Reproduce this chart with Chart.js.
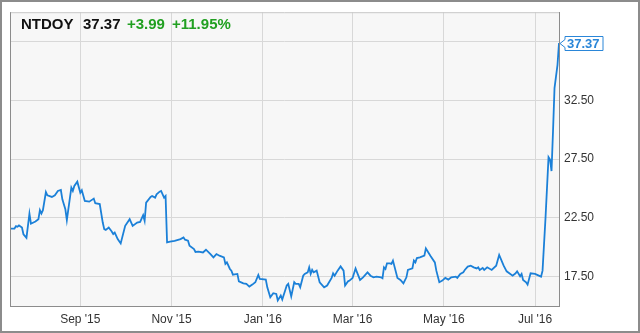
<!DOCTYPE html>
<html lang="en">
<head>
  <meta charset="UTF-8" />
  <title>NTDOY 1 Year</title>
  <script src="https://cdn.jsdelivr.net/npm/chart.js"></script>
  <style>
    html, body {
      margin: 0;
      padding: 0;
      background: #fff;
    }
    #chart-container {
      width: 640px;
      height: 333px;
    }
  </style>
</head>
<body>

  <div id="chart-container">
    <canvas id="stockChart" width="640" height="333"></canvas>
  </div>

  <script>
    // days counted from 16 Jul 2015
    const days = [
      0, 3, 4, 5, 6, 8, 9, 11, 13, 14,
      17, 19, 20, 21, 22, 24, 25, 28, 30, 32,
      34, 35, 37, 38, 41, 42, 43, 45, 47, 48,
      50, 53, 56, 57, 60, 62, 63, 64, 66, 68,
      69, 70, 72, 74, 77, 80, 82, 85, 87, 89,
      90, 91, 94, 95, 97, 98, 100, 101, 103, 104,
      105, 107, 110, 114, 116, 117, 119, 120, 123, 124,
      126, 129, 131, 134, 136, 138, 140, 143, 144, 145,
      147, 148, 149, 152, 153, 156, 158, 160, 162, 164,
      166, 167, 171, 172, 174, 176, 178, 179, 181, 182,
      185, 186, 188, 190, 191, 193, 194, 196, 197, 199,
      200, 201, 202, 203, 205, 207, 210, 212, 215, 216,
      217, 219, 221, 223, 224, 226, 227, 229, 231, 232,
      234, 236, 239, 241, 243, 245, 248, 249, 250, 251,
      252, 254, 255, 256, 259, 261, 263, 265, 266, 269,
      270, 271, 272, 274, 277, 278, 281, 284, 285, 287,
      289, 291, 293, 295, 298, 299, 301, 303, 304, 306,
      308, 310, 312, 313, 314, 316, 317, 319, 322, 325,
      327, 330, 332, 336, 338, 339, 341, 342, 343, 345,
      346, 348, 351, 355, 356, 358, 360, 361, 362, 363,
      364, 366, 367
    ];
    const prices = [
      21.59, 21.59, 21.80, 21.74, 21.85, 21.68, 21.10, 20.80, 22.86, 22.00,
      22.19, 22.39, 23.15, 22.86, 23.15, 24.70, 24.42, 24.28, 24.42, 24.79,
      24.87, 24.08, 23.24, 22.30, 25.07, 24.79, 25.21, 25.58, 24.64, 24.85,
      23.94, 23.88, 24.14, 23.75, 23.68, 22.10, 21.54, 21.48, 21.68, 21.34,
      21.12, 21.25, 20.69, 20.32, 21.82, 22.39, 21.82, 22.10, 22.16, 22.73,
      22.25, 23.80, 24.28, 24.36, 24.22, 24.50, 24.73, 24.79, 24.22, 24.36,
      20.41, 20.47, 20.55, 20.69, 20.83, 20.64, 20.55, 20.13, 19.85, 19.60,
      19.63, 19.56, 19.79, 19.42, 19.14, 19.42, 19.28, 19.14, 18.58, 18.71,
      18.15, 18.01, 17.67, 17.73, 17.10, 16.93, 16.88, 16.65, 16.82, 17.02,
      17.64, 17.30, 17.25, 16.59, 15.75, 16.09, 16.03, 15.47, 15.89, 15.55,
      16.74, 16.88, 15.81, 17.02, 16.88, 16.88, 16.59, 17.58, 17.73, 17.86,
      18.29, 17.73, 18.07, 17.86, 18.01, 17.02, 16.59, 16.74, 17.39, 17.78,
      17.58, 18.01, 18.37, 18.01, 16.74, 17.10, 17.16, 17.39, 18.20, 17.86,
      17.22, 17.44, 17.86, 17.58, 17.44, 17.50, 17.44, 17.36, 18.29, 18.15,
      18.63, 18.63, 18.58, 18.86, 17.39, 17.22, 16.93, 17.44, 18.07, 18.20,
      18.86, 18.71, 19.08, 19.14, 19.28, 19.90, 19.28, 18.71, 18.01, 17.02,
      17.16, 17.39, 17.25, 17.44, 17.50, 17.39, 17.73, 17.86, 18.07, 18.35,
      18.43, 18.29, 18.20, 18.29, 18.07, 18.24, 18.07, 18.29, 18.07, 18.43,
      19.34, 18.43, 17.95, 17.58, 17.78, 17.95, 17.53, 17.73, 17.22, 17.02,
      16.82, 17.78, 17.73, 17.50, 18.01, 22.53, 27.67, 27.47, 26.48, 29.87,
      33.54, 35.52, 37.37
    ];

    const xTickDays = [47, 108, 169, 229, 290, 351];
    const xTickLabels = ["Sep '15", "Nov '15", "Jan '16", "Mar '16", "May '16", "Jul '16"];
    const yTicks = [17.5, 22.5, 27.5, 32.5, 37.5];

    const symbol = 'NTDOY';
    const lastPrice = '37.37';
    const change = '+3.99';
    const changePct = '+11.95%';

    const FONT = '"Liberation Sans", Arial, sans-serif';
    Chart.defaults.font.family = FONT;

    const decorPlugin = {
      id: 'decor',
      beforeDraw(chart) {
        const ctx = chart.ctx;
        const a = chart.chartArea;
        ctx.save();
        ctx.fillStyle = '#ffffff';
        ctx.fillRect(0, 0, chart.width, chart.height);
        ctx.fillStyle = '#f7f7f7';
        ctx.fillRect(a.left, a.top, a.right - a.left, a.bottom - a.top);
        ctx.restore();
      },
      afterDraw(chart) {
        const ctx = chart.ctx;
        const a = chart.chartArea;
        ctx.save();
        // plot frame
        ctx.strokeStyle = '#c8c8c8';
        ctx.lineWidth = 1;
        ctx.beginPath();
        ctx.moveTo(a.left, a.top + 0.5);
        ctx.lineTo(a.right, a.top + 0.5);
        ctx.stroke();
        ctx.strokeStyle = '#8c8c8c';
        ctx.beginPath();
        ctx.moveTo(a.left + 0.5, a.top);
        ctx.lineTo(a.left + 0.5, a.bottom);
        ctx.stroke();
        // outer frame
        ctx.strokeStyle = '#8c8c8c';
        ctx.lineWidth = 2;
        ctx.strokeRect(1, 1, chart.width - 2, chart.height - 2);

        // header
        ctx.font = 'bold 15px ' + FONT;
        ctx.textBaseline = 'alphabetic';
        ctx.fillStyle = '#111';
        ctx.fillText(symbol, 21, 29);
        ctx.fillText(lastPrice, 83, 29);
        ctx.fillStyle = '#21a021';
        ctx.fillText(change, 127, 29);
        ctx.fillText(changePct, 172, 29);

        // last price tag
        const y = Math.round(chart.scales.y.getPixelForValue(prices[prices.length - 1])) + 0.5;
        const x0 = a.right + 1;
        const bx = x0 + 5, bw = 38, bh = 14;
        ctx.lineWidth = 1;
        ctx.strokeStyle = '#2a86d8';
        ctx.fillStyle = '#ffffff';
        ctx.beginPath();
        ctx.moveTo(x0, y);
        ctx.lineTo(bx, y - 4);
        ctx.lineTo(bx, y - bh / 2);
        ctx.lineTo(bx + bw, y - bh / 2);
        ctx.lineTo(bx + bw, y + bh / 2);
        ctx.lineTo(bx, y + bh / 2);
        ctx.lineTo(bx, y + 4);
        ctx.closePath();
        ctx.fill();
        ctx.stroke();
        ctx.fillStyle = '#2a86d8';
        ctx.font = 'bold 13px ' + FONT;
        ctx.textBaseline = 'middle';
        ctx.fillText(lastPrice, bx + 2, y + 1);
        ctx.restore();
      }
    };

    const points = days.map((d, i) => ({ x: d, y: prices[i] }));

    new Chart(document.getElementById('stockChart'), {
      type: 'line',
      data: {
        datasets: [{
          data: points,
          borderColor: '#1b80d8',
          borderWidth: 1.8,
          pointRadius: 0,
          tension: 0,
          fill: false
        }]
      },
      options: {
        responsive: false,
        animation: false,
        events: [],
        layout: { padding: { left: 10, top: 10, right: 0, bottom: 0 } },
        plugins: {
          legend: { display: false },
          tooltip: { enabled: false }
        },
        scales: {
          x: {
            type: 'linear',
            min: 0,
            max: 367,
            afterBuildTicks: (scale) => {
              scale.ticks = xTickDays.map(v => ({ value: v }));
            },
            afterFit: (scale) => { scale.height = 27; },
            grid: { color: '#d8d8d8', drawTicks: false },
            border: { color: '#8c8c8c', width: 1 },
            ticks: {
              autoSkip: false,
              maxRotation: 0,
              padding: 6,
              color: '#333',
              font: { size: 12 },
              callback: (v) => {
                const i = xTickDays.indexOf(v);
                return i >= 0 ? xTickLabels[i] : '';
              }
            }
          },
          y: {
            position: 'right',
            min: 15,
            max: 40,
            afterBuildTicks: (scale) => {
              scale.ticks = yTicks.map(v => ({ value: v }));
            },
            afterFit: (scale) => { scale.width = 81; },
            grid: { color: '#d8d8d8', drawTicks: false },
            border: { color: '#8c8c8c', width: 1 },
            ticks: {
              padding: 5,
              color: '#333',
              font: { size: 12 },
              callback: (v) => v === 37.5 ? '' : v.toFixed(2)
            }
          }
        }
      },
      plugins: [decorPlugin]
    });
  </script>

</body>
</html>
